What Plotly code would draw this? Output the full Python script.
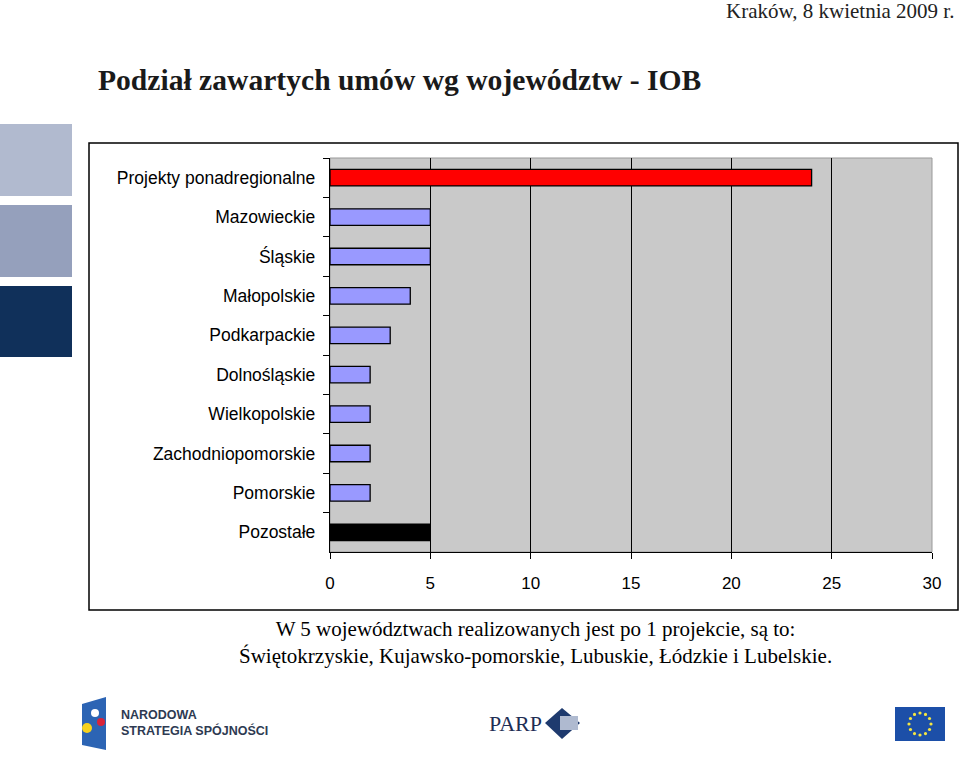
import math
import plotly.graph_objects as go

# data
regions = ["Projekty ponadregionalne", "Mazowieckie", "Śląskie", "Małopolskie",
           "Podkarpackie", "Dolnośląskie", "Wielkopolskie", "Zachodniopomorskie",
           "Pomorskie", "Pozostałe"]
contracts = [24, 5, 5, 4, 3, 2, 2, 2, 2, 5]
x_ticks = [0, 5, 10, 15, 20, 25, 30]

W, H = 960, 765
L, R, T, B = 330, 932, 158, 552


def px(x):
    return (x - L) / (R - L)


def py(y):
    return (B - y) / (B - T)


bar_colors = ["#FF0000"] + ["#9999FF"] * 8 + ["#000000"]

fig = go.Figure()
fig.add_trace(go.Bar(
    x=contracts, y=regions, orientation="h",
    marker=dict(color=bar_colors, line=dict(color="black", width=1.3)),
    width=0.42, hoverinfo="x+y",
))

shapes = []
# outer chart frame
shapes.append(dict(type="rect", xref="paper", yref="paper", x0=px(89), x1=px(958),
                   y0=py(610), y1=py(143), line=dict(color="black", width=1.5), layer="below"))
# plot border (grey)
shapes.append(dict(type="rect", xref="paper", yref="paper", x0=0, x1=1, y0=0, y1=1,
                   line=dict(color="#999999", width=1), layer="below"))
# decorative squares on the left
for (y0, y1), c in zip([(124, 196), (205, 277), (286, 357)], ["#B1BACF", "#95A0BC", "#10305A"]):
    shapes.append(dict(type="rect", xref="paper", yref="paper", x0=px(0), x1=px(72),
                       y0=py(y1), y1=py(y0), line=dict(width=0), fillcolor=c))

# EU flag
shapes.append(dict(type="rect", xref="paper", yref="paper", x0=px(895), x1=px(945),
                   y0=py(741), y1=py(707), line=dict(width=0), fillcolor="#1C4FA8"))
for k in range(12):
    a = 2 * math.pi * k / 12
    cx, cy = 920 + 11 * math.cos(a), 724 + 11 * math.sin(a)
    shapes.append(dict(type="circle", xref="paper", yref="paper",
                       x0=px(cx - 1.6), x1=px(cx + 1.6), y0=py(cy + 1.6), y1=py(cy - 1.6),
                       line=dict(width=0), fillcolor="#F5E642"))

# NSS logo
shapes.append(dict(type="path", xref="paper", yref="paper",
                   path="M %f %f L %f %f L %f %f L %f %f Z" % (px(82), py(704), px(106), py(697),
                                                               px(106), py(750), px(82), py(745)),
                   line=dict(width=0), fillcolor="#2C64B4"))
for cx, cy, c, r in [(95, 713, "#FFFFFF", 4), (101, 722, "#D8243A", 4), (87, 728, "#F7D21E", 5)]:
    shapes.append(dict(type="circle", xref="paper", yref="paper",
                       x0=px(cx - r), x1=px(cx + r), y0=py(cy + r), y1=py(cy - r),
                       line=dict(width=0), fillcolor=c))

# PARP logo arrows
shapes.append(dict(type="path", xref="paper", yref="paper",
                   path="M %f %f L %f %f L %f %f L %f %f Z" % (px(562), py(708), px(580), py(723),
                                                               px(562), py(739), px(545), py(723)),
                   line=dict(width=0), fillcolor="#1E3A6E"))
shapes.append(dict(type="rect", xref="paper", yref="paper", x0=px(560), x1=px(578),
                   y0=py(730), y1=py(716), line=dict(width=0), fillcolor="#AFBAD0"))

annotations = [
    dict(text="Kraków, 8 kwietnia 2009 r.", x=px(956), y=py(11), xanchor="right", yanchor="middle",
         showarrow=False, xref="paper", yref="paper",
         font=dict(family="Liberation Serif", size=21, color="#222222")),
    dict(text="<b>Podział zawartych umów wg województw - IOB</b>", x=px(96), y=py(80),
         xanchor="left", yanchor="middle", showarrow=False, xref="paper", yref="paper",
         font=dict(family="Liberation Serif", size=29.6, color="#1A1A1A")),
    dict(text="W 5 województwach realizowanych jest po 1 projekcie, są to:<br>"
              "Świętokrzyskie, Kujawsko-pomorskie, Lubuskie, Łódzkie i Lubelskie.",
         x=px(535), y=py(642), xanchor="center", yanchor="middle", showarrow=False,
         xref="paper", yref="paper",
         font=dict(family="Liberation Serif", size=21, color="black")),
    dict(text="<b>NARODOWA<br>STRATEGIA SPÓJNOŚCI</b>", x=px(119), y=py(723), xanchor="left",
         yanchor="middle", align="left", showarrow=False, xref="paper", yref="paper",
         font=dict(family="Liberation Sans", size=12.5, color="#2E3A52")),
    dict(text="PARP", x=px(487), y=py(723), xanchor="left", yanchor="middle", showarrow=False,
         xref="paper", yref="paper", font=dict(family="Liberation Serif", size=22, color="#1E2E55")),
]

fig.update_layout(
    width=W, height=H,
    margin=dict(l=L, r=W - R, t=T, b=H - B),
    paper_bgcolor="white", plot_bgcolor="#C9C9C9",
    showlegend=False, bargap=0.58,
    font=dict(family="Liberation Sans", size=16, color="black"),
    xaxis=dict(range=[0, 30], tickvals=x_ticks, showgrid=True, gridcolor="black", gridwidth=1,
               showline=True, linecolor="black", linewidth=1.3, ticks="outside", ticklen=6,
               tickcolor="black", zeroline=False, ticklabelstandoff=9,
               tickfont=dict(size=17)),
    yaxis=dict(autorange="reversed", showline=True, linecolor="black", linewidth=1.3,
               ticks="outside", ticklen=6, tickcolor="black", tickson="boundaries",
               showgrid=False, ticklabelstandoff=10, tickfont=dict(size=17.5)),
    shapes=shapes, annotations=annotations,
)

fig.write_html("out.html", config={"displayModeBar": False},
               post_script="document.body.style.margin='0px';")
